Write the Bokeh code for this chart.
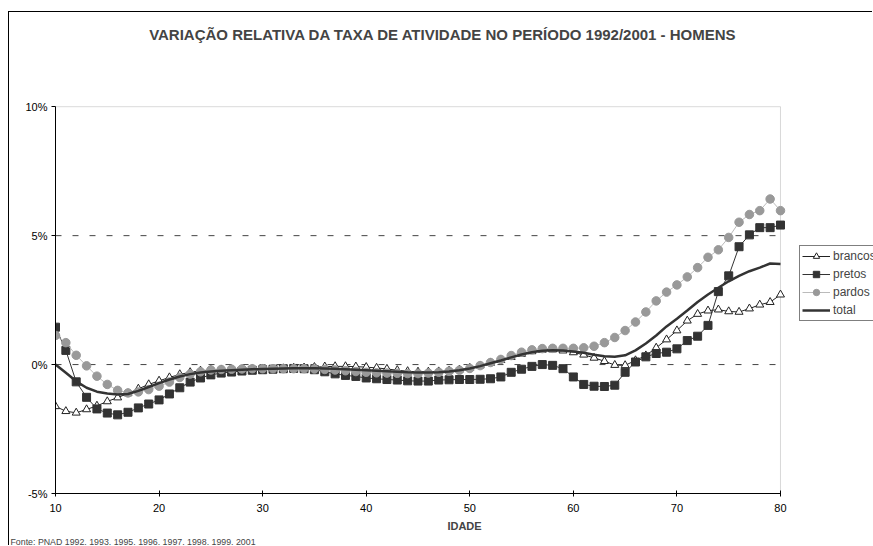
from bokeh.plotting import figure
from bokeh.models import (Range1d, Legend, LegendItem, Title, Label, BoxAnnotation,
                          FixedTicker, PrintfTickFormatter, ColumnDataSource)
from bokeh.embed import file_html
from bokeh.resources import INLINE

ages = list(range(10, 81))

brancos = [-1.62, -1.81, -1.87, -1.74, -1.60, -1.43, -1.28, -1.12, -0.94, -0.77,
           -0.63, -0.50, -0.38, -0.30, -0.24, -0.21, -0.20, -0.19, -0.19, -0.18,
           -0.17, -0.16, -0.15, -0.13, -0.12, -0.10, -0.08, -0.07, -0.07, -0.08,
           -0.10, -0.13, -0.17, -0.22, -0.26, -0.28, -0.28, -0.27, -0.24, -0.20,
           -0.13, -0.04, 0.06, 0.17, 0.29, 0.41, 0.51, 0.57, 0.58, 0.54,
           0.47, 0.38, 0.26, 0.13, -0.02, -0.03, 0.16, 0.35, 0.65, 0.97,
           1.32, 1.70, 1.96, 2.09, 2.13, 2.06, 2.04, 2.17, 2.32, 2.42,
           2.71]

pretos = [1.45, 0.55, -0.67, -1.27, -1.72, -1.88, -1.95, -1.85, -1.68, -1.53,
          -1.37, -1.14, -0.90, -0.68, -0.52, -0.40, -0.33, -0.29, -0.25, -0.22,
          -0.20, -0.18, -0.16, -0.15, -0.16, -0.20, -0.28, -0.36, -0.42, -0.46,
          -0.52, -0.55, -0.58, -0.60, -0.63, -0.64, -0.64, -0.60, -0.59, -0.58,
          -0.58, -0.57, -0.55, -0.48, -0.30, -0.18, -0.07, 0.00, -0.03, -0.16,
          -0.48, -0.77, -0.84, -0.85, -0.80, -0.30, 0.10, 0.30, 0.43, 0.48,
          0.61, 0.93, 1.10, 1.52, 2.83, 3.44, 4.57, 5.03, 5.31, 5.31,
          5.41]

pardos = [1.13, 0.85, 0.36, -0.05, -0.45, -0.77, -1.00, -1.10, -1.06, -0.97,
          -0.84, -0.68, -0.50, -0.37, -0.28, -0.21, -0.19, -0.18, -0.17, -0.16,
          -0.16, -0.16, -0.16, -0.16, -0.16, -0.17, -0.19, -0.21, -0.24, -0.27,
          -0.30, -0.32, -0.33, -0.34, -0.35, -0.35, -0.33, -0.30, -0.26, -0.22,
          -0.15, -0.04, 0.08, 0.20, 0.35, 0.48, 0.57, 0.62, 0.63, 0.63,
          0.63, 0.65, 0.71, 0.85, 1.05, 1.32, 1.65, 2.04, 2.47, 2.81,
          3.09, 3.40, 3.76, 4.16, 4.45, 4.93, 5.52, 5.82, 5.97, 6.42,
          5.97]

total = [0.00, -0.32, -0.65, -0.90, -1.05, -1.12, -1.16, -1.14, -1.02, -0.87,
         -0.72, -0.58, -0.46, -0.37, -0.31, -0.27, -0.24, -0.22, -0.20, -0.18,
         -0.17, -0.16, -0.15, -0.14, -0.14, -0.14, -0.15, -0.16, -0.18, -0.20,
         -0.22, -0.24, -0.26, -0.28, -0.30, -0.31, -0.31, -0.30, -0.27, -0.22,
         -0.15, -0.06, 0.05, 0.16, 0.28, 0.39, 0.48, 0.54, 0.56, 0.55,
         0.51, 0.46, 0.38, 0.32, 0.30, 0.36, 0.55, 0.82, 1.13, 1.48,
         1.78, 2.10, 2.43, 2.72, 2.98, 3.23, 3.44, 3.62, 3.76, 3.92,
         3.90]

y_ticks = [-5, 0, 5, 10]
x_ticks = [10, 20, 30, 40, 50, 60, 70, 80]
grid_values = [0, 5]
x_min, x_max = 10, 80
y_min, y_max = -5, 10

title_text = "VARIAÇÃO RELATIVA DA TAXA DE ATIVIDADE NO PERÍODO 1992/2001 - HOMENS"
source_text = "Fonte: PNAD 1992, 1993, 1995, 1996, 1997, 1998, 1999, 2001"
x_label = "IDADE"

FONT = "Liberation Sans"

# frame extends over the title and legend area; axes are bounded to the data area
PX_PER_YEAR = 10.357
PX_PER_PCT = 26.0
W, H = 864, 534
LEFT, BOTTOM = 46, 49
x_end = x_min + (W - LEFT) / PX_PER_YEAR
y_end = y_min + (H - BOTTOM) / PX_PER_PCT

p = figure(width=W, height=H, output_backend="svg", toolbar_location=None,
           x_range=Range1d(x_min, x_end), y_range=Range1d(y_min, y_end),
           min_border=0, min_border_left=LEFT, min_border_right=0,
           min_border_top=0, min_border_bottom=BOTTOM,
           styles={"margin-left": "8px", "margin-top": "11px",
                   "border-left": "1px solid #000", "border-top": "1px solid #000"})
p.background_fill_color = "white"
p.border_fill_color = "white"
p.outline_line_color = None
p.xgrid.visible = False
p.ygrid.visible = False

# plot-area border (top and right grey; left/bottom covered by axes)
p.add_layout(BoxAnnotation(left=x_min, right=x_max, bottom=y_min, top=y_max,
                           fill_alpha=0, line_color="#808080", line_width=1,
                           level="underlay"))

grid_src = ColumnDataSource(dict(y=grid_values, x0=[x_min] * len(grid_values),
                                 x1=[x_max] * len(grid_values)))
p.segment(x0="x0", x1="x1", y0="y", y1="y", source=grid_src, line_color="#444444",
          line_dash="6 11", line_width=1, level="underlay")

src = ColumnDataSource(dict(x=ages, b=brancos, pr=pretos, pa=pardos, t=total))

lb = p.line("x", "b", source=src, line_color="#222222", line_width=1)
mb = p.scatter("x", "b", source=src, marker="triangle", size=8, fill_color="white",
               line_color="#222222", line_width=1)
lpr = p.line("x", "pr", source=src, line_color="#333333", line_width=1)
mpr = p.scatter("x", "pr", source=src, marker="square", size=8, fill_color="#333333",
                line_color="#333333")
lpa = p.line("x", "pa", source=src, line_color="#bbbbbb", line_width=1)
mpa = p.scatter("x", "pa", source=src, marker="circle", size=8.5, fill_color="#999999",
                line_color="#999999")
lt = p.line("x", "t", source=src, line_color="#333333", line_width=2.5)

# axes
p.xaxis.ticker = FixedTicker(ticks=x_ticks)
p.yaxis.ticker = FixedTicker(ticks=y_ticks)
p.xaxis.bounds = (x_min, x_max)
p.yaxis.bounds = (y_min, y_max)
p.yaxis.formatter = PrintfTickFormatter(format="%d%%")
for ax in (p.xaxis[0], p.yaxis[0]):
    ax.axis_line_color = "black"
    ax.major_tick_line_color = "black"
    ax.minor_tick_line_color = None
    ax.major_label_text_font = FONT
    ax.major_label_text_font_size = "11px"
    ax.major_label_text_color = "black"
p.xaxis.major_tick_in = 3
p.xaxis.major_tick_out = 3
p.yaxis.major_tick_in = 0
p.yaxis.major_tick_out = 4
p.xaxis.major_label_standoff = 7
p.yaxis.major_label_standoff = 4
p.xaxis.axis_label = x_label
p.xaxis.axis_label_text_font = FONT
p.xaxis.axis_label_text_font_style = "bold"
p.xaxis.axis_label_text_font_size = "11px"
p.xaxis.axis_label_standoff = 5

# title, in the upper part of the frame (screen offsets from the frame corner)
p.add_layout(Label(x=x_min + (443 - 55) / PX_PER_YEAR, y=y_end - 22.5 / PX_PER_PCT,
                   text=title_text, text_font=FONT, text_font_style="bold",
                   text_font_size="15px", text_align="center", text_baseline="middle"))

p.add_layout(Title(text=source_text, text_font=FONT, text_font_style="normal",
                   text_font_size="8.8px", align="left", offset=-45, standoff=0), "below")

legend = Legend(items=[
    LegendItem(label="brancos", renderers=[lb, mb]),
    LegendItem(label="pretos", renderers=[lpr, mpr]),
    LegendItem(label="pardos", renderers=[lpa, mpa]),
    LegendItem(label="total", renderers=[lt]),
], location=(744, 172))
legend.border_line_color = "black"
legend.border_line_width = 1
legend.background_fill_alpha = 1
legend.label_text_font = FONT
legend.label_text_font_size = "12px"
legend.label_height = 16
legend.glyph_height = 16
legend.glyph_width = 28
legend.label_standoff = 3
legend.spacing = 2
legend.padding = 2
legend.margin = 0
p.add_layout(legend, "center")

open("out.html", "w").write(file_html(p, INLINE))
